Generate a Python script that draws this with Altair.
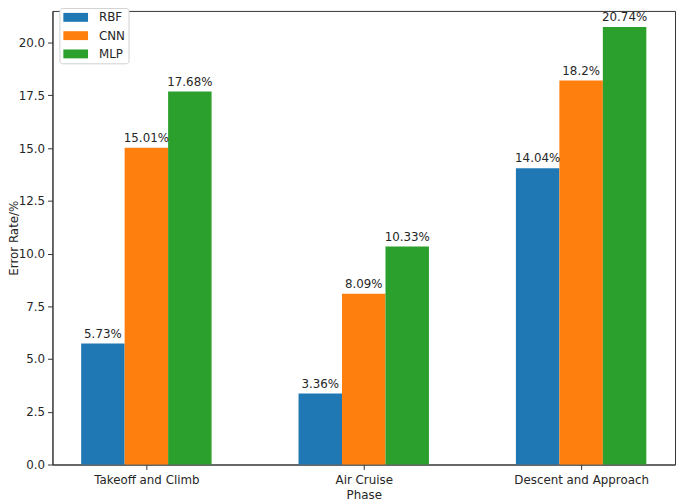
import json
import altair as alt
import pandas as pd

phases = ["Takeoff and Climb", "Air Cruise", "Descent and Approach"]
models = ["RBF", "CNN", "MLP"]
rbf = [5.73, 3.36, 14.04]
cnn = [15.01, 8.09, 18.2]
mlp = [17.68, 10.33, 20.74]
colors = ["#1f77b4", "#ff7f0e", "#2ca02c"]
y_ticks = [0.0, 2.5, 5.0, 7.5, 10.0, 12.5, 15.0, 17.5, 20.0]

BAR_W = 0.2
FONT = "DejaVu Sans"
INK = "#262626"

rows = []
for k, (m, vals) in enumerate(zip(models, [rbf, cnn, mlp])):
    for i, (p, v) in enumerate(zip(phases, vals)):
        rows.append(dict(phase=p, idx=i, model=m, order=k, value=v, label=f"{v}%"))
df = pd.DataFrame(rows)

base = alt.Chart(df).transform_calculate(
    xc=f"datum.idx + (datum.order - 1) * {BAR_W}",
).transform_calculate(
    x0=f"datum.xc - {BAR_W / 2}",
    x1=f"datum.xc + {BAR_W / 2}",
)

xscale = alt.Scale(domain=[-0.432, 2.432], nice=False, zero=False)
yscale = alt.Scale(domain=[0, 21.5], nice=False)
label_expr = f"{json.dumps(phases)}[datum.value]"

bars = base.mark_bar().encode(
    x=alt.X(
        "x0:Q",
        scale=xscale,
        axis=alt.Axis(
            values=[0, 1, 2],
            labelExpr=label_expr,
            title="Phase",
            grid=False,
            labelPadding=5,
            titleY=34,
            titleBaseline="alphabetic",
        ),
    ),
    x2="x1:Q",
    y=alt.Y(
        "value:Q",
        scale=yscale,
        axis=alt.Axis(
            values=y_ticks,
            format=".1f",
            title="Error Rate/%",
            grid=False,
            titleX=-44,
            titleY=229.5,
            titleAngle=270,
            titleAlign="center",
            titleBaseline="top",
        ),
    ),
    y2=alt.datum(0),
    color=alt.Color(
        "model:N",
        scale=alt.Scale(domain=models, range=colors),
        sort=models,
        legend=alt.Legend(
            title=None,
            orient="none",
            legendX=7,
            legendY=-3,
            symbolType="M-2,-0.72H2V0.72H-2Z",
            symbolSize=156,
            symbolStrokeWidth=0,
            symbolOpacity=1,
            symbolOffset=7,
            labelFontSize=12,
            labelFont=FONT,
            labelColor=INK,
            labelOffset=17,
            rowPadding=5.5,
            padding=3,
            strokeColor="#d0d0d0",
            fillColor="white",
            cornerRadius=3,
        ),
    ),
)

text = base.mark_text(
    baseline="bottom", dy=-3, fontSize=12, font=FONT, color=INK
).encode(
    x=alt.X("xc:Q", scale=xscale),
    y=alt.Y("value:Q", scale=yscale),
    text="label:N",
)

chart = (
    alt.layer(bars, text)
    .properties(
        width=630,
        height=459,
        autosize=alt.AutoSizeParams(type="none"),
        padding={"left": 45, "right": 2, "top": 0, "bottom": 37},
    )
    .configure_view(stroke="#333333", strokeWidth=1)
    .configure_axis(
        domainColor="#333333",
        tickColor="#333333",
        tickSize=5,
        labelFontSize=12,
        labelFont=FONT,
        labelColor=INK,
        labelPadding=3,
        titleFontSize=12,
        titleFont=FONT,
        titleColor=INK,
        titleFontWeight="normal",
    )
)

chart.save("out.html", embed_options={"renderer": "svg", "actions": False})
